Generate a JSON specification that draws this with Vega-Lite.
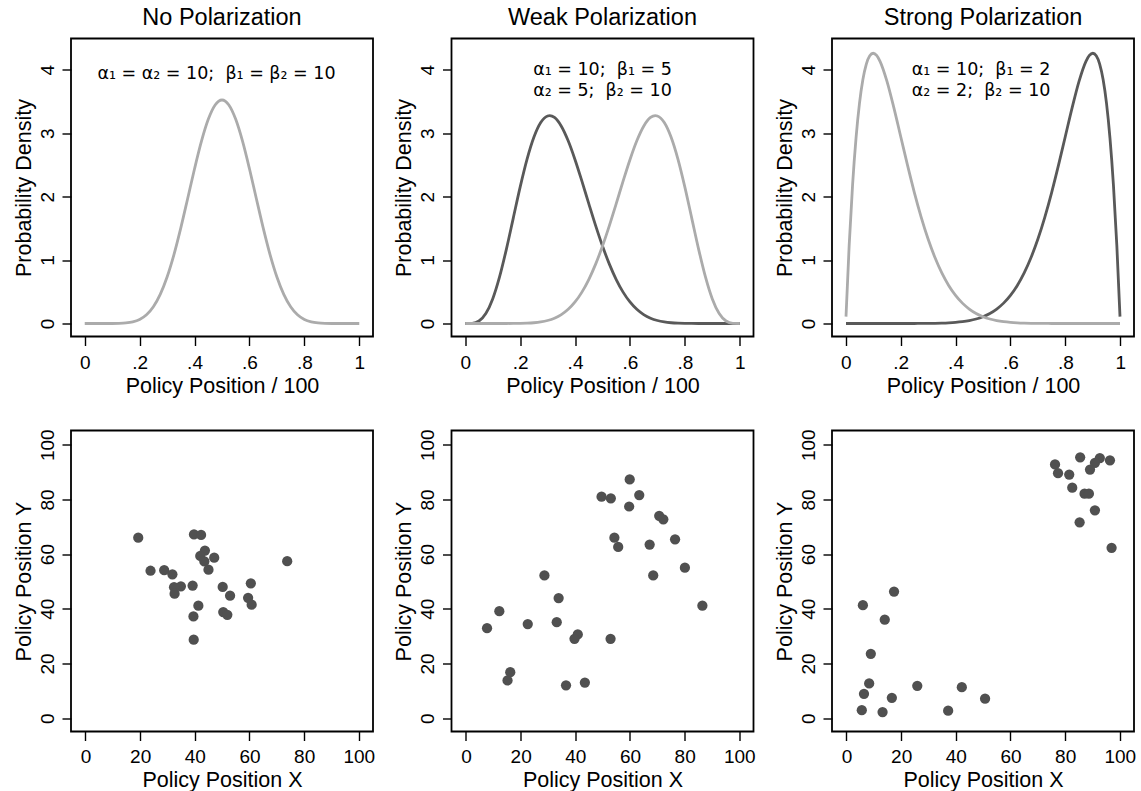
{
  "$schema": "https://vega.github.io/schema/vega-lite/v6.json",
  "background": "white",
  "padding": {"left": 12, "top": 4.5, "right": 5, "bottom": 1},
  "bounds": "flush",
  "columns": 3,
  "spacing": {"row": 94, "column": 78.5},
  "datasets": {
    "dens": [
      {"p":"none","g":"light","x":0,"y":0},{"p":"none","g":"light","x":0.05,"y":0},{"p":"none","g":"light","x":0.075,"y":0.00003},{"p":"none","g":"light","x":0.1,"y":0.00036},{"p":"none","g":"light","x":0.125,"y":0.00207},{"p":"none","g":"light","x":0.15,"y":0.00822},{"p":"none","g":"light","x":0.175,"y":0.0252},{"p":"none","g":"light","x":0.2,"y":0.0635},{"p":"none","g":"light","x":0.225,"y":0.1377},{"p":"none","g":"light","x":0.25,"y":0.2646},{"p":"none","g":"light","x":0.275,"y":0.4599},{"p":"none","g":"light","x":0.3,"y":0.7338},{"p":"none","g":"light","x":0.325,"y":1.0871},{"p":"none","g":"light","x":0.35,"y":1.5079},{"p":"none","g":"light","x":0.375,"y":1.9714},{"p":"none","g":"light","x":0.4,"y":2.4404},{"p":"none","g":"light","x":0.425,"y":2.8713},{"p":"none","g":"light","x":0.45,"y":3.2192},{"p":"none","g":"light","x":0.475,"y":3.4454},{"p":"none","g":"light","x":0.5,"y":3.5239},{"p":"none","g":"light","x":0.525,"y":3.4454},{"p":"none","g":"light","x":0.55,"y":3.2192},{"p":"none","g":"light","x":0.575,"y":2.8713},{"p":"none","g":"light","x":0.6,"y":2.4404},{"p":"none","g":"light","x":0.625,"y":1.9714},{"p":"none","g":"light","x":0.65,"y":1.5079},{"p":"none","g":"light","x":0.675,"y":1.0871},{"p":"none","g":"light","x":0.7,"y":0.7338},{"p":"none","g":"light","x":0.725,"y":0.4599},{"p":"none","g":"light","x":0.75,"y":0.2646},{"p":"none","g":"light","x":0.775,"y":0.1377},{"p":"none","g":"light","x":0.8,"y":0.0635},{"p":"none","g":"light","x":0.825,"y":0.0252},{"p":"none","g":"light","x":0.85,"y":0.00822},{"p":"none","g":"light","x":0.875,"y":0.00207},{"p":"none","g":"light","x":0.9,"y":0.00036},{"p":"none","g":"light","x":0.925,"y":0.00003},{"p":"none","g":"light","x":0.95,"y":0},{"p":"none","g":"light","x":1,"y":0},

      {"p":"weak","g":"dark","x":0,"y":0},{"p":"weak","g":"dark","x":0.025,"y":0.0031},{"p":"weak","g":"dark","x":0.05,"y":0.0394},{"p":"weak","g":"dark","x":0.075,"y":0.157},{"p":"weak","g":"dark","x":0.1,"y":0.3878},{"p":"weak","g":"dark","x":0.125,"y":0.7348},{"p":"weak","g":"dark","x":0.15,"y":1.1737},{"p":"weak","g":"dark","x":0.175,"y":1.6622},{"p":"weak","g":"dark","x":0.2,"y":2.1498},{"p":"weak","g":"dark","x":0.225,"y":2.5875},{"p":"weak","g":"dark","x":0.25,"y":2.9359},{"p":"weak","g":"dark","x":0.275,"y":3.1682},{"p":"weak","g":"dark","x":0.3,"y":3.2719},{"p":"weak","g":"dark","x":0.3077,"y":3.2779},{"p":"weak","g":"dark","x":0.325,"y":3.2487},{"p":"weak","g":"dark","x":0.35,"y":3.1112},{"p":"weak","g":"dark","x":0.375,"y":2.8806},{"p":"weak","g":"dark","x":0.4,"y":2.5825},{"p":"weak","g":"dark","x":0.425,"y":2.244},{"p":"weak","g":"dark","x":0.45,"y":1.8905},{"p":"weak","g":"dark","x":0.475,"y":1.544},{"p":"weak","g":"dark","x":0.5,"y":1.2219},{"p":"weak","g":"dark","x":0.525,"y":0.9361},{"p":"weak","g":"dark","x":0.55,"y":0.6931},{"p":"weak","g":"dark","x":0.575,"y":0.495},{"p":"weak","g":"dark","x":0.6,"y":0.3401},{"p":"weak","g":"dark","x":0.625,"y":0.224},{"p":"weak","g":"dark","x":0.65,"y":0.1408},{"p":"weak","g":"dark","x":0.675,"y":0.0841},{"p":"weak","g":"dark","x":0.7,"y":0.0473},{"p":"weak","g":"dark","x":0.725,"y":0.0249},{"p":"weak","g":"dark","x":0.75,"y":0.0121},{"p":"weak","g":"dark","x":0.775,"y":0.0053},{"p":"weak","g":"dark","x":0.8,"y":0.0021},{"p":"weak","g":"dark","x":0.825,"y":0.0007},{"p":"weak","g":"dark","x":0.85,"y":0.0002},{"p":"weak","g":"dark","x":0.9,"y":0},{"p":"weak","g":"dark","x":1,"y":0},

      {"p":"weak","g":"light","x":1,"y":0},{"p":"weak","g":"light","x":0.975,"y":0.0031},{"p":"weak","g":"light","x":0.95,"y":0.0394},{"p":"weak","g":"light","x":0.925,"y":0.157},{"p":"weak","g":"light","x":0.9,"y":0.3878},{"p":"weak","g":"light","x":0.875,"y":0.7348},{"p":"weak","g":"light","x":0.85,"y":1.1737},{"p":"weak","g":"light","x":0.825,"y":1.6622},{"p":"weak","g":"light","x":0.8,"y":2.1498},{"p":"weak","g":"light","x":0.775,"y":2.5875},{"p":"weak","g":"light","x":0.75,"y":2.9359},{"p":"weak","g":"light","x":0.725,"y":3.1682},{"p":"weak","g":"light","x":0.7,"y":3.2719},{"p":"weak","g":"light","x":0.6923,"y":3.2779},{"p":"weak","g":"light","x":0.675,"y":3.2487},{"p":"weak","g":"light","x":0.65,"y":3.1112},{"p":"weak","g":"light","x":0.625,"y":2.8806},{"p":"weak","g":"light","x":0.6,"y":2.5825},{"p":"weak","g":"light","x":0.575,"y":2.244},{"p":"weak","g":"light","x":0.55,"y":1.8905},{"p":"weak","g":"light","x":0.525,"y":1.544},{"p":"weak","g":"light","x":0.5,"y":1.2219},{"p":"weak","g":"light","x":0.475,"y":0.9361},{"p":"weak","g":"light","x":0.45,"y":0.6931},{"p":"weak","g":"light","x":0.425,"y":0.495},{"p":"weak","g":"light","x":0.4,"y":0.3401},{"p":"weak","g":"light","x":0.375,"y":0.224},{"p":"weak","g":"light","x":0.35,"y":0.1408},{"p":"weak","g":"light","x":0.325,"y":0.0841},{"p":"weak","g":"light","x":0.3,"y":0.0473},{"p":"weak","g":"light","x":0.275,"y":0.0249},{"p":"weak","g":"light","x":0.25,"y":0.0121},{"p":"weak","g":"light","x":0.225,"y":0.0053},{"p":"weak","g":"light","x":0.2,"y":0.0021},{"p":"weak","g":"light","x":0.175,"y":0.0007},{"p":"weak","g":"light","x":0.15,"y":0.0002},{"p":"weak","g":"light","x":0.1,"y":0},{"p":"weak","g":"light","x":0,"y":0},

      {"p":"strong","g":"dark","x":0.999,"y":0.109},{"p":"strong","g":"dark","x":0.9875,"y":1.2278},{"p":"strong","g":"dark","x":0.975,"y":2.1897},{"p":"strong","g":"dark","x":0.9625,"y":2.9244},{"p":"strong","g":"dark","x":0.95,"y":3.4664},{"p":"strong","g":"dark","x":0.9375,"y":3.8461},{"p":"strong","g":"dark","x":0.925,"y":4.0902},{"p":"strong","g":"dark","x":0.9125,"y":4.2217},{"p":"strong","g":"dark","x":0.9,"y":4.2616},{"p":"strong","g":"dark","x":0.8875,"y":4.2273},{"p":"strong","g":"dark","x":0.875,"y":4.1343},{"p":"strong","g":"dark","x":0.85,"y":3.8218},{"p":"strong","g":"dark","x":0.825,"y":3.4078},{"p":"strong","g":"dark","x":0.8,"y":2.9528},{"p":"strong","g":"dark","x":0.775,"y":2.4965},{"p":"strong","g":"dark","x":0.75,"y":2.0648},{"p":"strong","g":"dark","x":0.725,"y":1.6742},{"p":"strong","g":"dark","x":0.7,"y":1.3317},{"p":"strong","g":"dark","x":0.675,"y":1.0402},{"p":"strong","g":"dark","x":0.65,"y":0.7974},{"p":"strong","g":"dark","x":0.625,"y":0.6003},{"p":"strong","g":"dark","x":0.6,"y":0.4434},{"p":"strong","g":"dark","x":0.575,"y":0.3213},{"p":"strong","g":"dark","x":0.55,"y":0.228},{"p":"strong","g":"dark","x":0.525,"y":0.1583},{"p":"strong","g":"dark","x":0.5,"y":0.1074},{"p":"strong","g":"dark","x":0.475,"y":0.0711},{"p":"strong","g":"dark","x":0.45,"y":0.0458},{"p":"strong","g":"dark","x":0.425,"y":0.0286},{"p":"strong","g":"dark","x":0.4,"y":0.0173},{"p":"strong","g":"dark","x":0.375,"y":0.0101},{"p":"strong","g":"dark","x":0.35,"y":0.0056},{"p":"strong","g":"dark","x":0.325,"y":0.003},{"p":"strong","g":"dark","x":0.3,"y":0.0015},{"p":"strong","g":"dark","x":0.275,"y":0.0007},{"p":"strong","g":"dark","x":0.25,"y":0.0003},{"p":"strong","g":"dark","x":0.2,"y":0.0001},{"p":"strong","g":"dark","x":0.1,"y":0},{"p":"strong","g":"dark","x":0.001,"y":0},

      {"p":"strong","g":"light","x":0.001,"y":0.109},{"p":"strong","g":"light","x":0.0125,"y":1.2278},{"p":"strong","g":"light","x":0.025,"y":2.1897},{"p":"strong","g":"light","x":0.0375,"y":2.9244},{"p":"strong","g":"light","x":0.05,"y":3.4664},{"p":"strong","g":"light","x":0.0625,"y":3.8461},{"p":"strong","g":"light","x":0.075,"y":4.0902},{"p":"strong","g":"light","x":0.0875,"y":4.2217},{"p":"strong","g":"light","x":0.1,"y":4.2616},{"p":"strong","g":"light","x":0.1125,"y":4.2273},{"p":"strong","g":"light","x":0.125,"y":4.1343},{"p":"strong","g":"light","x":0.15,"y":3.8218},{"p":"strong","g":"light","x":0.175,"y":3.4078},{"p":"strong","g":"light","x":0.2,"y":2.9528},{"p":"strong","g":"light","x":0.225,"y":2.4965},{"p":"strong","g":"light","x":0.25,"y":2.0648},{"p":"strong","g":"light","x":0.275,"y":1.6742},{"p":"strong","g":"light","x":0.3,"y":1.3317},{"p":"strong","g":"light","x":0.325,"y":1.0402},{"p":"strong","g":"light","x":0.35,"y":0.7974},{"p":"strong","g":"light","x":0.375,"y":0.6003},{"p":"strong","g":"light","x":0.4,"y":0.4434},{"p":"strong","g":"light","x":0.425,"y":0.3213},{"p":"strong","g":"light","x":0.45,"y":0.228},{"p":"strong","g":"light","x":0.475,"y":0.1583},{"p":"strong","g":"light","x":0.5,"y":0.1074},{"p":"strong","g":"light","x":0.525,"y":0.0711},{"p":"strong","g":"light","x":0.55,"y":0.0458},{"p":"strong","g":"light","x":0.575,"y":0.0286},{"p":"strong","g":"light","x":0.6,"y":0.0173},{"p":"strong","g":"light","x":0.625,"y":0.0101},{"p":"strong","g":"light","x":0.65,"y":0.0056},{"p":"strong","g":"light","x":0.675,"y":0.003},{"p":"strong","g":"light","x":0.7,"y":0.0015},{"p":"strong","g":"light","x":0.725,"y":0.0007},{"p":"strong","g":"light","x":0.75,"y":0.0003},{"p":"strong","g":"light","x":0.8,"y":0.0001},{"p":"strong","g":"light","x":0.9,"y":0},{"p":"strong","g":"light","x":0.999,"y":0}
    ],
    "ann": [
      {"p":"none","x":0.48,"y":3.94,"t":["α₁ = α₂ = 10;\u00a0 β₁ = β₂ = 10"]},
      {"p":"weak","x":0.5,"y":3.99,"t":["α₁ = 10;\u00a0 β₁ = 5", "α₂ = 5;\u00a0 β₂ = 10"]},
      {"p":"strong","x":0.493,"y":3.99,"t":["α₁ = 10;\u00a0 β₁ = 2", "α₂ = 2;\u00a0 β₂ = 10"]}
    ],
    "pts": [
      {"p":"none","x":19.3,"y":66.0},{"p":"none","x":39.7,"y":67.2},{"p":"none","x":42.3,"y":67.0},{"p":"none","x":43.7,"y":61.3},{"p":"none","x":42.0,"y":59.3},{"p":"none","x":47.1,"y":58.7},{"p":"none","x":43.5,"y":57.3},{"p":"none","x":45.0,"y":54.3},{"p":"none","x":23.8,"y":53.9},{"p":"none","x":28.8,"y":54.1},{"p":"none","x":31.8,"y":52.6},{"p":"none","x":73.8,"y":57.4},{"p":"none","x":60.5,"y":49.3},{"p":"none","x":39.2,"y":48.5},{"p":"none","x":34.9,"y":48.2},{"p":"none","x":32.4,"y":47.9},{"p":"none","x":32.6,"y":45.5},{"p":"none","x":50.2,"y":48.0},{"p":"none","x":52.9,"y":44.8},{"p":"none","x":59.5,"y":44.0},{"p":"none","x":60.8,"y":41.5},{"p":"none","x":41.3,"y":41.1},{"p":"none","x":39.5,"y":37.2},{"p":"none","x":50.4,"y":38.8},{"p":"none","x":51.9,"y":37.8},{"p":"none","x":39.6,"y":28.7},
      {"p":"weak","x":59.9,"y":87.3},{"p":"weak","x":49.6,"y":81.0},{"p":"weak","x":53.0,"y":80.4},{"p":"weak","x":63.4,"y":81.6},{"p":"weak","x":59.7,"y":77.4},{"p":"weak","x":70.7,"y":74.0},{"p":"weak","x":72.2,"y":72.7},{"p":"weak","x":54.3,"y":66.0},{"p":"weak","x":55.7,"y":62.6},{"p":"weak","x":67.2,"y":63.5},{"p":"weak","x":76.5,"y":65.4},{"p":"weak","x":80.1,"y":55.0},{"p":"weak","x":68.5,"y":52.2},{"p":"weak","x":28.7,"y":52.2},{"p":"weak","x":33.9,"y":43.9},{"p":"weak","x":86.5,"y":41.1},{"p":"weak","x":12.2,"y":39.1},{"p":"weak","x":7.7,"y":32.9},{"p":"weak","x":22.6,"y":34.4},{"p":"weak","x":33.2,"y":35.1},{"p":"weak","x":40.9,"y":30.6},{"p":"weak","x":39.7,"y":29.0},{"p":"weak","x":52.9,"y":29.0},{"p":"weak","x":16.2,"y":16.8},{"p":"weak","x":15.2,"y":13.8},{"p":"weak","x":36.6,"y":12.0},{"p":"weak","x":43.5,"y":13.0},
      {"p":"strong","x":76.3,"y":92.8},{"p":"strong","x":85.5,"y":95.4},{"p":"strong","x":92.7,"y":95.1},{"p":"strong","x":96.4,"y":94.3},{"p":"strong","x":90.9,"y":93.4},{"p":"strong","x":89.1,"y":90.9},{"p":"strong","x":77.4,"y":89.6},{"p":"strong","x":81.5,"y":89.1},{"p":"strong","x":82.6,"y":84.3},{"p":"strong","x":87.1,"y":82.1},{"p":"strong","x":88.7,"y":82.1},{"p":"strong","x":90.9,"y":76.0},{"p":"strong","x":85.3,"y":71.6},{"p":"strong","x":97.0,"y":62.3},{"p":"strong","x":17.4,"y":46.3},{"p":"strong","x":6.0,"y":41.3},{"p":"strong","x":14.0,"y":36.0},{"p":"strong","x":8.9,"y":23.5},{"p":"strong","x":8.3,"y":12.7},{"p":"strong","x":6.4,"y":8.9},{"p":"strong","x":5.6,"y":2.9},{"p":"strong","x":13.2,"y":2.2},{"p":"strong","x":16.6,"y":7.4},{"p":"strong","x":25.9,"y":11.8},{"p":"strong","x":42.2,"y":11.3},{"p":"strong","x":50.7,"y":7.1},{"p":"strong","x":37.2,"y":2.7}
    ]
  },
  "concat": [
    {
      "width": 302, "height": 298, "title": "No Polarization",
      "layer": [
        {"data": {"name": "dens"}, "transform": [{"filter": "datum.p == 'none'"}],
         "mark": {"type": "line", "interpolate": "monotone", "strokeWidth": 2.8},
         "encoding": {
           "x": {"field": "x", "type": "quantitative", "scale": {"domain": [-0.05, 1.05], "nice": false, "zero": false}, "axis": {"title": "Policy Position / 100", "values": [0, 0.2, 0.4, 0.6, 0.8, 1], "labelExpr": "datum.value == 0 ? '0' : datum.value == 1 ? '1' : replace(format(datum.value, '.1f'), '0.', '.')"}},
           "y": {"field": "y", "type": "quantitative", "scale": {"domain": [-0.205, 4.494], "nice": false, "zero": false}, "axis": {"title": "Probability Density", "values": [0, 1, 2, 3, 4], "format": ".0f"}},
           "color": {"field": "g", "type": "nominal", "scale": {"domain": ["dark", "light"], "range": ["#595959", "#ababab"]}, "legend": null}
         }},
        {"data": {"name": "ann"}, "transform": [{"filter": "datum.p == 'none'"}],
         "mark": {"type": "text", "font": "DejaVu Sans", "fontSize": 17.5, "lineHeight": 20.5, "baseline": "middle", "align": "center", "color": "black"},
         "encoding": {"x": {"field": "x", "type": "quantitative"}, "y": {"field": "y", "type": "quantitative"}, "text": {"field": "t", "type": "nominal"}}}
      ]
    },
    {
      "width": 302, "height": 298, "title": "Weak Polarization",
      "layer": [
        {"data": {"name": "dens"}, "transform": [{"filter": "datum.p == 'weak'"}],
         "mark": {"type": "line", "interpolate": "monotone", "strokeWidth": 2.8},
         "encoding": {
           "x": {"field": "x", "type": "quantitative", "scale": {"domain": [-0.05, 1.05], "nice": false, "zero": false}, "axis": {"title": "Policy Position / 100", "values": [0, 0.2, 0.4, 0.6, 0.8, 1], "labelExpr": "datum.value == 0 ? '0' : datum.value == 1 ? '1' : replace(format(datum.value, '.1f'), '0.', '.')"}},
           "y": {"field": "y", "type": "quantitative", "scale": {"domain": [-0.205, 4.494], "nice": false, "zero": false}, "axis": {"title": "Probability Density", "values": [0, 1, 2, 3, 4], "format": ".0f"}},
           "color": {"field": "g", "type": "nominal", "scale": {"domain": ["dark", "light"], "range": ["#595959", "#ababab"]}, "legend": null}
         }},
        {"data": {"name": "ann"}, "transform": [{"filter": "datum.p == 'weak'"}],
         "mark": {"type": "text", "font": "DejaVu Sans", "fontSize": 17.5, "lineHeight": 20.5, "baseline": "middle", "align": "center", "color": "black"},
         "encoding": {"x": {"field": "x", "type": "quantitative"}, "y": {"field": "y", "type": "quantitative"}, "text": {"field": "t", "type": "nominal"}}}
      ]
    },
    {
      "width": 302, "height": 298, "title": "Strong Polarization",
      "layer": [
        {"data": {"name": "dens"}, "transform": [{"filter": "datum.p == 'strong'"}],
         "mark": {"type": "line", "interpolate": "monotone", "strokeWidth": 2.8},
         "encoding": {
           "x": {"field": "x", "type": "quantitative", "scale": {"domain": [-0.05, 1.05], "nice": false, "zero": false}, "axis": {"title": "Policy Position / 100", "values": [0, 0.2, 0.4, 0.6, 0.8, 1], "labelExpr": "datum.value == 0 ? '0' : datum.value == 1 ? '1' : replace(format(datum.value, '.1f'), '0.', '.')"}},
           "y": {"field": "y", "type": "quantitative", "scale": {"domain": [-0.205, 4.494], "nice": false, "zero": false}, "axis": {"title": "Probability Density", "values": [0, 1, 2, 3, 4], "format": ".0f"}},
           "color": {"field": "g", "type": "nominal", "scale": {"domain": ["dark", "light"], "range": ["#595959", "#ababab"]}, "legend": null}
         }},
        {"data": {"name": "ann"}, "transform": [{"filter": "datum.p == 'strong'"}],
         "mark": {"type": "text", "font": "DejaVu Sans", "fontSize": 17.5, "lineHeight": 20.5, "baseline": "middle", "align": "center", "color": "black"},
         "encoding": {"x": {"field": "x", "type": "quantitative"}, "y": {"field": "y", "type": "quantitative"}, "text": {"field": "t", "type": "nominal"}}}
      ]
    },
    {
      "width": 302, "height": 301,
      "data": {"name": "pts"}, "transform": [{"filter": "datum.p == 'none'"}],
      "mark": {"type": "circle", "size": 105, "color": "#505050", "opacity": 1},
      "encoding": {
        "x": {"field": "x", "type": "quantitative", "scale": {"domain": [-5.3, 105.2], "nice": false, "zero": false}, "axis": {"title": "Policy Position X", "values": [0, 20, 40, 60, 80, 100], "labelPadding": 7}},
        "y": {"field": "y", "type": "quantitative", "scale": {"domain": [-4.9, 105.2], "nice": false, "zero": false}, "axis": {"title": "Policy Position Y", "values": [0, 20, 40, 60, 80, 100]}}
      }
    },
    {
      "width": 302, "height": 301,
      "data": {"name": "pts"}, "transform": [{"filter": "datum.p == 'weak'"}],
      "mark": {"type": "circle", "size": 105, "color": "#505050", "opacity": 1},
      "encoding": {
        "x": {"field": "x", "type": "quantitative", "scale": {"domain": [-5.3, 105.2], "nice": false, "zero": false}, "axis": {"title": "Policy Position X", "values": [0, 20, 40, 60, 80, 100], "labelPadding": 7}},
        "y": {"field": "y", "type": "quantitative", "scale": {"domain": [-4.9, 105.2], "nice": false, "zero": false}, "axis": {"title": "Policy Position Y", "values": [0, 20, 40, 60, 80, 100]}}
      }
    },
    {
      "width": 302, "height": 301,
      "data": {"name": "pts"}, "transform": [{"filter": "datum.p == 'strong'"}],
      "mark": {"type": "circle", "size": 105, "color": "#505050", "opacity": 1},
      "encoding": {
        "x": {"field": "x", "type": "quantitative", "scale": {"domain": [-5.3, 105.2], "nice": false, "zero": false}, "axis": {"title": "Policy Position X", "values": [0, 20, 40, 60, 80, 100], "labelPadding": 7}},
        "y": {"field": "y", "type": "quantitative", "scale": {"domain": [-4.9, 105.2], "nice": false, "zero": false}, "axis": {"title": "Policy Position Y", "values": [0, 20, 40, 60, 80, 100]}}
      }
    }
  ],
  "resolve": {"scale": {"color": "independent"}},
  "config": {
    "font": "Liberation Sans",
    "view": {"stroke": "black", "strokeWidth": 1.8},
    "axis": {"grid": false, "domain": false, "ticks": true, "tickSize": 9, "tickWidth": 1.4, "tickColor": "black", "labelColor": "black", "labelFontSize": 19, "labelFont": "Liberation Sans", "titleFontSize": 21.5, "titleFont": "Liberation Sans", "titleFontWeight": "normal", "titleColor": "black", "labelFlush": false, "labelOverlap": false},
    "axisY": {"labelAngle": 270, "labelPadding": 5, "titlePadding": 3},
    "axisX": {"labelPadding": 8, "titlePadding": 2.6},
    "title": {"fontSize": 23.5, "fontWeight": "normal", "font": "Liberation Sans", "color": "black", "offset": 9.5, "baseline": "alphabetic", "anchor": "middle"}
  }
}
